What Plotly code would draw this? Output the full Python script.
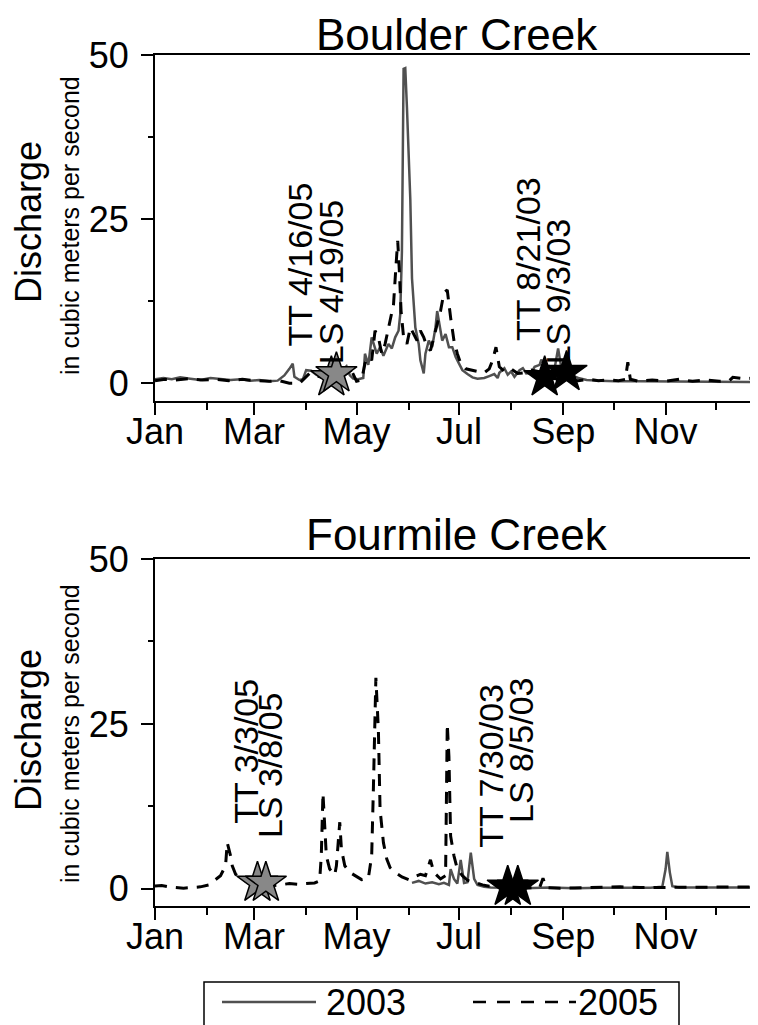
import plotly.graph_objects as go

# ---------------- data (day of year, 0 = Jan 1; discharge in m^3/s) ----------------
boulder_2003_day = [0, 5, 10, 15, 21, 27, 33, 39, 45, 51, 57, 62, 68, 73, 77, 80, 82, 83, 86, 88,
                    90, 93, 96, 99, 102, 105, 108, 111, 114, 116, 118, 121, 124, 125, 127, 129, 132, 134, 136, 139,
                    141, 143, 145, 146, 147, 148, 149, 150, 152, 153, 155, 157, 158, 160, 161, 163, 165, 167, 168, 170,
                    171, 173, 175, 177, 179, 181, 183, 186, 189, 192, 196, 199, 202, 204, 205, 208, 210, 212, 214, 217,
                    219, 221, 224, 226, 229, 230, 233, 235, 238, 240, 242, 245, 248, 252, 257, 265, 274, 289, 307, 324,
                    342, 359]
boulder_2003_q = [0.6, 0.8, 0.6, 0.9, 0.7, 0.5, 0.8, 0.6, 0.5, 0.6, 0.4, 0.5, 0.3, 0.4, 1.2, 2.2, 3.0, 1.0, 0.5, 0.6,
                  2.0, 1.9, 1.3, 0.9, 1.5, 2.3, 1.6, 1.9, 2.6, 1.2, 0.7, 0.6, 0.8, 4.5, 2.8, 7.0, 4.5, 5.5, 4.2, 6.0,
                  5.3, 7.0, 8.0, 10.5, 20.0, 47.9, 48.0, 42.0, 28.0, 16.0, 8.5, 6.0, 3.5, 1.5, 4.5, 6.5, 5.5, 8.5, 11.0, 8.0,
                  6.5, 7.5, 5.5, 5.5, 4.0, 3.0, 2.0, 1.4, 0.9, 0.7, 0.8, 1.1, 1.4, 0.8, 1.6, 2.3, 1.3, 1.8, 1.0, 2.0,
                  2.3, 1.5, 1.6, 2.5, 2.8, 3.6, 2.2, 2.6, 2.4, 5.3, 2.2, 2.0, 1.2, 0.8, 0.5, 0.4, 0.3, 0.3, 0.3, 0.2,
                  0.2, 0.2]

boulder_2005_day = [0, 6, 12, 20, 28, 36, 44, 52, 60, 68, 74, 80, 86, 92, 98, 104, 110, 116, 120, 123,
                    125, 127, 129, 131, 133, 135, 137, 139, 140, 142, 143.5, 144.5, 145.5, 146.5, 148, 150, 152, 154, 156, 158,
                    160, 162, 164, 166, 168, 170, 172, 174, 176, 178, 180, 182, 185, 188, 192, 196, 199, 201, 203, 205,
                    208, 212, 216, 220, 224, 228, 232, 236, 240, 246, 252, 258, 264, 270, 276, 280, 281.5, 283, 288, 296,
                    304, 312, 320, 328, 336, 342, 344, 350, 359]
boulder_2005_q = [0.4, 0.6, 0.5, 0.7, 0.5, 0.6, 0.4, 0.6, 0.4, 0.3, 0.4, 0.0, 0.0, 1.5, 1.0, 0.8, 1.8, 2.5, 0.3, 0.5,
                  3.0, 4.0, 3.5, 8.0, 7.0, 4.5, 6.0, 8.5, 10.0, 12.0, 18.0, 21.7, 17.0, 11.0, 7.0, 6.0, 8.5, 7.5, 6.5, 8.0,
                  7.0, 5.5, 5.0, 7.0, 9.0, 11.0, 13.8, 14.2, 10.0, 6.5, 4.5, 3.0, 2.2, 2.0, 1.8, 1.6, 2.2, 3.5, 5.5, 2.5,
                  1.8, 2.2, 1.5, 1.6, 2.0, 1.8, 1.2, 0.8, 0.6, 0.5, 0.4, 0.6, 0.4, 0.5, 0.4, 0.6, 3.2, 0.6, 0.3, 0.5,
                  0.3, 0.6, 0.3, 0.5, 0.3, 0.4, 0.9, 0.7, 0.8]

fourmile_2003_day = [153, 157, 161, 165, 169, 172, 175, 176, 178, 180, 182, 184, 186, 188, 190, 192, 196, 200, 210, 220,
                     235, 250, 265, 280, 295, 302, 304, 305, 306.5, 308, 312, 325, 340, 359]
fourmile_2003_q = [0.9, 1.2, 0.8, 1.0, 0.7, 0.9, 0.6, 3.0, 1.5, 0.8, 4.4, 0.9, 1.0, 5.5, 1.5, 0.6, 0.3, 0.2, 0.15, 0.1,
                   0.2, 0.1, 0.15, 0.1, 0.15, 0.3, 3.0, 5.6, 2.5, 0.4, 0.2, 0.2, 0.15, 0.2]

fourmile_2005_day = [0, 4, 8, 12, 17, 22, 27, 32, 35, 39, 42, 43, 45, 46, 48, 52, 55, 59, 62, 68,
                     74, 80, 85, 90, 95, 98, 99, 100, 101, 102, 104, 107, 108, 109, 110, 111, 113, 116, 120, 123,
                     127, 129, 130, 131, 131.5, 133, 134, 136, 138, 140, 143, 147, 151, 154, 158, 161, 164, 166, 170, 173,
                     174, 175, 176, 178, 180, 183, 186, 190, 195, 199, 205, 211, 217, 223, 229, 231, 233, 241, 253, 265,
                     277, 289, 301, 312, 324, 336, 348, 359]
fourmile_2005_q = [0.45, 0.5, 0.3, 0.2, 0.1, 0.2, 0.3, 0.6, 1.2, 2.0, 3.5, 7.0, 5.0, 3.5, 2.2, 1.5, 1.0, 0.6, 0.5, 0.4,
                   0.6, 0.8, 0.7, 0.8, 0.9, 1.2, 5.0, 14.5, 10.0, 5.0, 3.0, 2.1, 3.5, 7.0, 10.1, 6.0, 3.5, 2.5, 1.8, 1.4,
                   1.6, 5.0, 15.0, 27.0, 32.0, 24.0, 12.0, 7.0, 4.5, 3.2, 2.5, 1.8, 1.4, 1.8, 2.2, 2.0, 4.4, 2.5, 1.5, 2.0,
                   25.0, 20.0, 8.0, 5.0, 3.0, 2.0, 1.3, 1.0, 0.6, 0.4, 0.2, 0.1, 0.1, 0.1, 0.2, 1.6, 0.2, 0.1, 0.2, 0.2,
                   0.3, 0.2, 0.2, 0.2, 0.3, 0.3, 0.2, 0.3]

# sampling events (TT = tracer test, LS = longitudinal survey)
boulder_2005_events_day = [105, 108]
boulder_2005_events_q = [0.9, 1.5]
boulder_2005_events_lbl = ["TT 4/16/05", "LS 4/19/05"]
boulder_2003_events_day = [232, 245]
boulder_2003_events_q = [0.9, 1.7]
boulder_2003_events_lbl = ["TT 8/21/03", "LS 9/3/03"]
fourmile_2005_events_day = [61, 66]
fourmile_2005_events_q = [0.9, 0.9]
fourmile_2005_events_lbl = ["TT 3/3/05", "LS 3/8/05"]
fourmile_2003_events_day = [210, 216]
fourmile_2003_events_q = [0.3, 0.3]
fourmile_2003_events_lbl = ["TT 7/30/03", "LS 8/5/03"]

panel_titles = ["Boulder Creek", "Fourmile Creek"]
month_major_day = [0, 59, 120, 181, 243, 304]
month_major_lbl = ["Jan", "Mar", "May", "Jul", "Sep", "Nov"]
month_minor_day = [31, 90, 151, 212, 273, 334]
legend_labels = ["2003", "2005"]

# ---------------- layout geometry (screen pixels, page body has an 8px margin) ----------------
OFF = 8
W, H = 758 - OFF, 1025 - OFF
ML, MR, MT = 155 - OFF, 0, 55 - OFF
MB = H - (906 - OFF)
PW, PH = W - ML - MR, H - MT - MB
FONT = "Liberation Sans, Arial, sans-serif"
GRAY = "#505050"


def px_x(sx):
    return (sx - OFF - ML) / PW


def px_y(sy):
    return (H - MB - (sy - OFF)) / PH


top_dom = [px_y(401), 1.0]
bot_dom = [0.0, px_y(559)]

fig = go.Figure()

DASH = "12px,9px"

panels = [
    ("x", "y", boulder_2003_day, boulder_2003_q, boulder_2005_day, boulder_2005_q,
     boulder_2005_events_day, boulder_2005_events_q, boulder_2003_events_day, boulder_2003_events_q),
    ("x2", "y2", fourmile_2003_day, fourmile_2003_q, fourmile_2005_day, fourmile_2005_q,
     fourmile_2005_events_day, fourmile_2005_events_q, fourmile_2003_events_day, fourmile_2003_events_q),
]
for xa, ya, d3, q3, d5, q5, e5d, e5q, e3d, e3q in panels:
    fig.add_trace(go.Scatter(x=d3, y=q3, xaxis=xa, yaxis=ya, mode="lines",
                             line=dict(color=GRAY, width=2.5), showlegend=False, hoverinfo="skip"))
    fig.add_trace(go.Scatter(x=d5, y=q5, xaxis=xa, yaxis=ya, mode="lines",
                             line=dict(color="black", width=3, dash=DASH), showlegend=False, hoverinfo="skip"))
    fig.add_trace(go.Scatter(x=e5d, y=e5q, xaxis=xa, yaxis=ya, mode="markers",
                             marker=dict(symbol="star", size=31, color="#888888",
                                         line=dict(color="black", width=1.5)),
                             showlegend=False, hoverinfo="skip"))
    fig.add_trace(go.Scatter(x=e3d, y=e3q, xaxis=xa, yaxis=ya, mode="markers",
                             marker=dict(symbol="star", size=31, color="black",
                                         line=dict(color="black", width=1.5)),
                             showlegend=False, hoverinfo="skip"))

xcommon = dict(range=[0, 359], showgrid=False, zeroline=False, showline=True, linecolor="black", linewidth=2,
               mirror=True, ticks="outside", ticklen=12, tickwidth=2, tickcolor="black",
               tickmode="array", tickvals=month_major_day, ticktext=month_major_lbl,
               ticklabelstandoff=-14,
               tickfont=dict(family=FONT, size=36, color="black"),
               minor=dict(tickmode="array", tickvals=month_minor_day, ticks="outside", ticklen=7,
                          tickwidth=2, tickcolor="black", showgrid=False))
ycommon = dict(range=[-2.7, 50], showgrid=False, zeroline=False, showline=True, linecolor="black", linewidth=2,
               mirror=False, ticks="outside", ticklen=12, tickwidth=2, tickcolor="black",
               tickmode="array", tickvals=[0, 25, 50], ticklabelstandoff=5,
               tickfont=dict(family=FONT, size=36, color="black"),
               minor=dict(tickmode="array", tickvals=[12.5, 37.5], ticks="outside", ticklen=5,
                          tickwidth=2, tickcolor="black", showgrid=False))

fig.update_layout(
    width=W, height=H,
    margin=dict(l=ML, r=MR, t=MT, b=MB, pad=0),
    paper_bgcolor="white", plot_bgcolor="white",
    font=dict(family=FONT, color="black"),
    xaxis=dict(domain=[0, 1], anchor="y", **xcommon),
    yaxis=dict(domain=top_dom, anchor="x", **ycommon),
    xaxis2=dict(domain=[0, 1], anchor="y2", **xcommon),
    yaxis2=dict(domain=bot_dom, anchor="x2", **{**ycommon, "range": [-2.6, 50]}),
)

ann = []
# panel titles
ann.append(dict(text=panel_titles[0], xref="paper", yref="paper", x=0.5, y=px_y(8.5),
                xanchor="center", yanchor="top", showarrow=False, borderpad=0,
                font=dict(family=FONT, size=44, color="black")))
ann.append(dict(text=panel_titles[1], xref="paper", yref="paper", x=0.5, y=px_y(560),
                xanchor="center", yanchor="bottom", showarrow=False, borderpad=0,
                font=dict(family=FONT, size=44, color="black")))
# y-axis titles
for mid in (222, 730):
    ann.append(dict(text="Discharge", xref="paper", yref="paper", x=px_x(28), y=px_y(mid),
                    xanchor="center", yanchor="middle", textangle=-90, showarrow=False,
                    font=dict(family=FONT, size=36, color="black")))
    ann.append(dict(text="in cubic meters per second", xref="paper", yref="paper", x=px_x(70), y=px_y(mid + 4),
                    xanchor="center", yanchor="middle", textangle=-90, showarrow=False,
                    font=dict(family=FONT, size=25, color="black")))

# event labels (rotated), anchored at their bottom
label_pos = [
    ("x", "y", boulder_2005_events_lbl[0], 86.9, 5.3),
    ("x", "y", boulder_2005_events_lbl[1], 104.8, 2.6),
    ("x", "y", boulder_2003_events_lbl[0], 222.0, 6.1),
    ("x", "y", boulder_2003_events_lbl[1], 240.0, 2.6),
    ("x2", "y2", fourmile_2005_events_lbl[0], 54.2, 9.5),
    ("x2", "y2", fourmile_2005_events_lbl[1], 68.5, 7.4),
    ("x2", "y2", fourmile_2003_events_lbl[0], 200.0, 5.9),
    ("x2", "y2", fourmile_2003_events_lbl[1], 218.0, 9.7),
]
for xa, ya, txt, xv, yv in label_pos:
    ann.append(dict(text=txt, xref=xa, yref=ya, x=xv, y=yv, xanchor="center", yanchor="bottom",
                    textangle=-90, showarrow=False, font=dict(family=FONT, size=34, color="black")))

# manual legend (box runs off the bottom edge, as in the source figure)
ann.append(dict(text=legend_labels[0], xref="paper", yref="paper", x=px_x(324), y=px_y(980),
                xanchor="left", yanchor="top", showarrow=False, font=dict(family=FONT, size=36, color="black")))
ann.append(dict(text=legend_labels[1], xref="paper", yref="paper", x=px_x(576), y=px_y(980),
                xanchor="left", yanchor="top", showarrow=False, font=dict(family=FONT, size=36, color="black")))
fig.update_layout(annotations=ann)

shapes = [
    dict(type="rect", xref="paper", yref="paper", x0=px_x(204), x1=px_x(679), y0=px_y(1040), y1=px_y(982),
         line=dict(color="black", width=1.5), fillcolor="rgba(0,0,0,0)"),
    dict(type="line", xref="paper", yref="paper", x0=px_x(222), x1=px_x(316), y0=px_y(1002), y1=px_y(1002),
         line=dict(color=GRAY, width=2.5)),
    dict(type="line", xref="paper", yref="paper", x0=px_x(473), x1=px_x(576), y0=px_y(1002), y1=px_y(1002),
         line=dict(color="black", width=2.5, dash="13px,11px")),
]
fig.update_layout(shapes=shapes)

fig.write_html("out.html")
